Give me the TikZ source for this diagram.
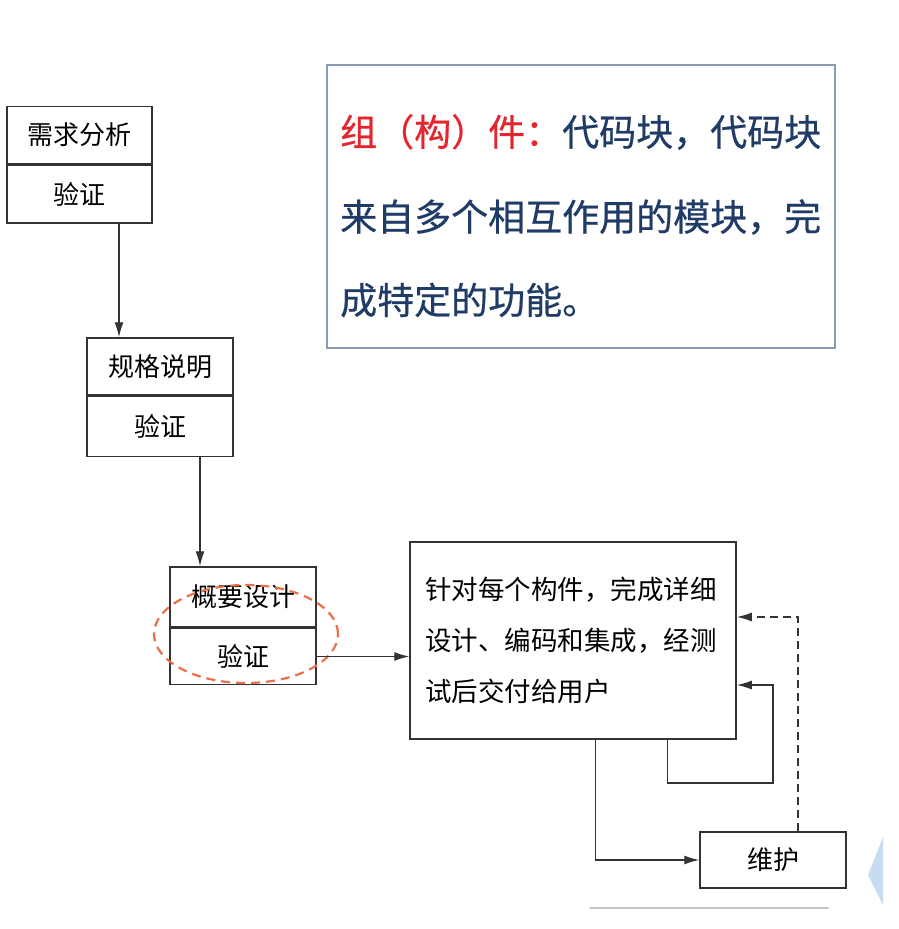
\documentclass[tikz,border=0pt]{standalone}
\usepackage{fontspec}
\newfontfamily\cjk{Noto Sans CJK SC}
\newfontfamily\cjknote[FakeBold=0.6]{Noto Sans CJK SC}
\usetikzlibrary{arrows.meta,calc,shapes.geometric}
\definecolor{boxline}{HTML}{333333}
\definecolor{ovalc}{HTML}{E8704A}
\definecolor{noteframe}{HTML}{8A9BB5}
\definecolor{noteblue}{HTML}{1F3B66}
\definecolor{notered}{HTML}{E3262E}
\definecolor{decoblue}{HTML}{C5DCF2}
\begin{document}
\begin{tikzpicture}[x=1pt,y=-1pt,
  cell/.style={draw=boxline, line width=1.5pt, minimum width=146pt, inner sep=0pt, font=\cjk\fontsize{26}{26}\selectfont},
  arr/.style={-{Latex[length=15pt,width=9pt]}, line width=1.3pt, draw=boxline},
  notetext/.style={anchor=west, inner sep=0pt, font=\cjknote\fontsize{37}{37}\selectfont, text=noteblue}]
\useasboundingbox (0,0) rectangle (898,929);

% note box
\node[draw=noteframe, line width=1.5pt, minimum width=508pt, minimum height=283pt, inner sep=0pt] (note) at (581,206.5) {};
\node[notetext] (n1) at (340,132) {\textcolor{notered}{组（构）件：}代码块，代码块};
\node[notetext] (n2) at (340,217) {来自多个相互作用的模块，完};
\node[notetext] (n3) at (340,300) {成特定的功能。};

% stage boxes
\node[cell, minimum width=145pt, minimum height=57pt] (a1) at (79.5,135) {需求分析};
\node[cell, minimum width=145pt, minimum height=58pt, anchor=north] (a2) at (a1.south) {验证};

\node[cell, minimum height=57pt] (b1) at (160,366.5) {规格说明};
\node[cell, minimum height=60pt, anchor=north] (b2) at (b1.south) {验证};

\node[cell, minimum height=60pt] (c1) at (243,597) {概要设计};
\node[cell, minimum height=56pt, anchor=north] (c2) at (c1.south) {验证};

\node[draw=ovalc, dash pattern=on 9pt off 6pt, line width=2.2pt, ellipse, minimum width=184pt, minimum height=98pt, inner sep=0pt] (ov) at (246,634) {};

% big box
\node[draw=boxline, line width=1.5pt, minimum width=326pt, minimum height=197pt, inner sep=0pt] (big) at (573,640.5) {};
\node[anchor=west, inner sep=0pt, align=left, font=\cjk\fontsize{26.5}{51}\selectfont] (bt) at ($(big.west)+(16,0)$) {针对每个构件，完成详细\\设计、编码和集成，经测\\试后交付给用户};

% maintenance box
\node[cell, minimum height=56pt] (m) at (773,860) {维护};

% connectors
\coordinate (p1) at ($(a2.south)+(39.5,0)$);
\draw[arr] (p1) -- (p1 |- b1.north);
\coordinate (p2) at ($(b2.south)+(40,0)$);
\draw[arr] (p2) -- (p2 |- c1.north);
\draw[arr] (c2.east) -- (c2.east -| big.west);

\coordinate (q1) at ($(big.south west)+(186,0)$);
\draw[arr] (q1) |- (m.west);

\coordinate (q2) at ($(big.south west)+(258,0)$);
\coordinate (l1) at (773,783);
\coordinate (l2) at (773,685);
\draw[arr] (q2) |- (l1) -- (l2) -- (l2 -| big.east);

\coordinate (d0) at ($(m.north)+(25,0)$);
\coordinate (d1) at (798,617);
\draw[arr, dash pattern=on 8pt off 5pt] (d0) -- (d1) -- (d1 -| big.east);

% decorations
\draw[line width=2pt, gray!45, line cap=round] (590,908) -- (828,908);
\fill[decoblue] (883,837) -- (868,875) -- (883,905) -- cycle;
\end{tikzpicture}
\end{document}
